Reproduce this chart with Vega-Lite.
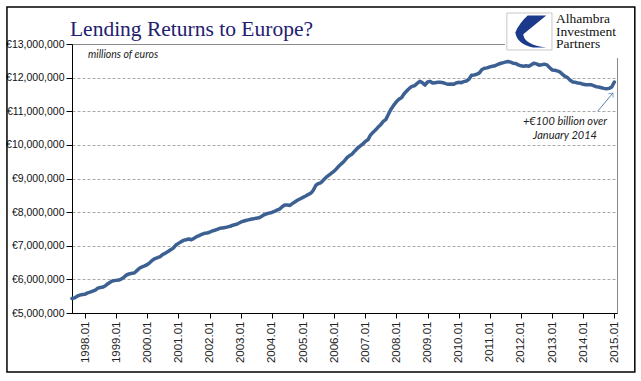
{
  "$schema": "https://vega.github.io/schema/vega-lite/v6.json",
  "width": 545,
  "height": 269,
  "autosize": {"type": "none"},
  "padding": {"left": 72, "top": 44, "right": 24, "bottom": 68},
  "background": "white",
  "config": {"view": {"stroke": "#8a8a8a", "strokeWidth": 1}},
  "resolve": {"axis": {"x": "independent", "y": "independent"}},
  "datasets": {
    "lending": [
      {"date": "1997-08-01", "value": 5430000}, {"date": "1997-09-01", "value": 5450000}, {"date": "1997-10-01", "value": 5500000}, {"date": "1997-11-01", "value": 5530000}, {"date": "1997-12-01", "value": 5550000},
      {"date": "1998-01-01", "value": 5560000}, {"date": "1998-02-01", "value": 5600000}, {"date": "1998-03-01", "value": 5620000}, {"date": "1998-04-01", "value": 5650000}, {"date": "1998-05-01", "value": 5680000}, {"date": "1998-06-01", "value": 5740000}, {"date": "1998-07-01", "value": 5760000}, {"date": "1998-08-01", "value": 5770000}, {"date": "1998-09-01", "value": 5820000}, {"date": "1998-10-01", "value": 5880000}, {"date": "1998-11-01", "value": 5930000}, {"date": "1998-12-01", "value": 5960000},
      {"date": "1999-01-01", "value": 5970000}, {"date": "1999-02-01", "value": 5980000}, {"date": "1999-03-01", "value": 6010000}, {"date": "1999-04-01", "value": 6060000}, {"date": "1999-05-01", "value": 6130000}, {"date": "1999-06-01", "value": 6160000}, {"date": "1999-07-01", "value": 6180000}, {"date": "1999-08-01", "value": 6190000}, {"date": "1999-09-01", "value": 6260000}, {"date": "1999-10-01", "value": 6330000}, {"date": "1999-11-01", "value": 6370000}, {"date": "1999-12-01", "value": 6400000},
      {"date": "2000-01-01", "value": 6440000}, {"date": "2000-02-01", "value": 6500000}, {"date": "2000-03-01", "value": 6570000}, {"date": "2000-04-01", "value": 6620000}, {"date": "2000-05-01", "value": 6650000}, {"date": "2000-06-01", "value": 6680000}, {"date": "2000-07-01", "value": 6740000}, {"date": "2000-08-01", "value": 6780000}, {"date": "2000-09-01", "value": 6830000}, {"date": "2000-10-01", "value": 6880000}, {"date": "2000-11-01", "value": 6930000}, {"date": "2000-12-01", "value": 7020000},
      {"date": "2001-01-01", "value": 7070000}, {"date": "2001-02-01", "value": 7120000}, {"date": "2001-03-01", "value": 7160000}, {"date": "2001-04-01", "value": 7180000}, {"date": "2001-05-01", "value": 7200000}, {"date": "2001-06-01", "value": 7180000}, {"date": "2001-07-01", "value": 7220000}, {"date": "2001-08-01", "value": 7270000}, {"date": "2001-09-01", "value": 7300000}, {"date": "2001-10-01", "value": 7340000}, {"date": "2001-11-01", "value": 7370000}, {"date": "2001-12-01", "value": 7380000},
      {"date": "2002-01-01", "value": 7400000}, {"date": "2002-02-01", "value": 7440000}, {"date": "2002-03-01", "value": 7460000}, {"date": "2002-04-01", "value": 7490000}, {"date": "2002-05-01", "value": 7520000}, {"date": "2002-06-01", "value": 7530000}, {"date": "2002-07-01", "value": 7540000}, {"date": "2002-08-01", "value": 7560000}, {"date": "2002-09-01", "value": 7580000}, {"date": "2002-10-01", "value": 7610000}, {"date": "2002-11-01", "value": 7630000}, {"date": "2002-12-01", "value": 7660000},
      {"date": "2003-01-01", "value": 7700000}, {"date": "2003-02-01", "value": 7730000}, {"date": "2003-03-01", "value": 7750000}, {"date": "2003-04-01", "value": 7770000}, {"date": "2003-05-01", "value": 7790000}, {"date": "2003-06-01", "value": 7800000}, {"date": "2003-07-01", "value": 7820000}, {"date": "2003-08-01", "value": 7830000}, {"date": "2003-09-01", "value": 7870000}, {"date": "2003-10-01", "value": 7920000}, {"date": "2003-11-01", "value": 7950000}, {"date": "2003-12-01", "value": 7970000},
      {"date": "2004-01-01", "value": 7990000}, {"date": "2004-02-01", "value": 8020000}, {"date": "2004-03-01", "value": 8060000}, {"date": "2004-04-01", "value": 8090000}, {"date": "2004-05-01", "value": 8160000}, {"date": "2004-06-01", "value": 8210000}, {"date": "2004-07-01", "value": 8210000}, {"date": "2004-08-01", "value": 8200000}, {"date": "2004-09-01", "value": 8260000}, {"date": "2004-10-01", "value": 8310000}, {"date": "2004-11-01", "value": 8360000}, {"date": "2004-12-01", "value": 8400000},
      {"date": "2005-01-01", "value": 8440000}, {"date": "2005-02-01", "value": 8480000}, {"date": "2005-03-01", "value": 8520000}, {"date": "2005-04-01", "value": 8560000}, {"date": "2005-05-01", "value": 8650000}, {"date": "2005-06-01", "value": 8800000}, {"date": "2005-07-01", "value": 8850000}, {"date": "2005-08-01", "value": 8880000}, {"date": "2005-09-01", "value": 8960000}, {"date": "2005-10-01", "value": 9040000}, {"date": "2005-11-01", "value": 9100000}, {"date": "2005-12-01", "value": 9160000},
      {"date": "2006-01-01", "value": 9220000}, {"date": "2006-02-01", "value": 9300000}, {"date": "2006-03-01", "value": 9380000}, {"date": "2006-04-01", "value": 9450000}, {"date": "2006-05-01", "value": 9520000}, {"date": "2006-06-01", "value": 9620000}, {"date": "2006-07-01", "value": 9680000}, {"date": "2006-08-01", "value": 9730000}, {"date": "2006-09-01", "value": 9820000}, {"date": "2006-10-01", "value": 9900000}, {"date": "2006-11-01", "value": 9960000}, {"date": "2006-12-01", "value": 10020000},
      {"date": "2007-01-01", "value": 10100000}, {"date": "2007-02-01", "value": 10150000}, {"date": "2007-03-01", "value": 10280000}, {"date": "2007-04-01", "value": 10370000}, {"date": "2007-05-01", "value": 10440000}, {"date": "2007-06-01", "value": 10530000}, {"date": "2007-07-01", "value": 10600000}, {"date": "2007-08-01", "value": 10700000}, {"date": "2007-09-01", "value": 10760000}, {"date": "2007-10-01", "value": 10920000}, {"date": "2007-11-01", "value": 11070000}, {"date": "2007-12-01", "value": 11180000},
      {"date": "2008-01-01", "value": 11280000}, {"date": "2008-02-01", "value": 11360000}, {"date": "2008-03-01", "value": 11400000}, {"date": "2008-04-01", "value": 11520000}, {"date": "2008-05-01", "value": 11600000}, {"date": "2008-06-01", "value": 11680000}, {"date": "2008-07-01", "value": 11740000}, {"date": "2008-08-01", "value": 11760000}, {"date": "2008-09-01", "value": 11830000}, {"date": "2008-10-01", "value": 11890000}, {"date": "2008-11-01", "value": 11850000}, {"date": "2008-12-01", "value": 11780000},
      {"date": "2009-01-01", "value": 11870000}, {"date": "2009-02-01", "value": 11890000}, {"date": "2009-03-01", "value": 11840000}, {"date": "2009-04-01", "value": 11850000}, {"date": "2009-05-01", "value": 11860000}, {"date": "2009-06-01", "value": 11860000}, {"date": "2009-07-01", "value": 11850000}, {"date": "2009-08-01", "value": 11820000}, {"date": "2009-09-01", "value": 11800000}, {"date": "2009-10-01", "value": 11810000}, {"date": "2009-11-01", "value": 11800000}, {"date": "2009-12-01", "value": 11840000},
      {"date": "2010-01-01", "value": 11860000}, {"date": "2010-02-01", "value": 11850000}, {"date": "2010-03-01", "value": 11880000}, {"date": "2010-04-01", "value": 11900000}, {"date": "2010-05-01", "value": 11950000}, {"date": "2010-06-01", "value": 12070000}, {"date": "2010-07-01", "value": 12080000}, {"date": "2010-08-01", "value": 12100000}, {"date": "2010-09-01", "value": 12140000}, {"date": "2010-10-01", "value": 12240000}, {"date": "2010-11-01", "value": 12280000}, {"date": "2010-12-01", "value": 12290000},
      {"date": "2011-01-01", "value": 12320000}, {"date": "2011-02-01", "value": 12340000}, {"date": "2011-03-01", "value": 12350000}, {"date": "2011-04-01", "value": 12390000}, {"date": "2011-05-01", "value": 12420000}, {"date": "2011-06-01", "value": 12440000}, {"date": "2011-07-01", "value": 12460000}, {"date": "2011-08-01", "value": 12480000}, {"date": "2011-09-01", "value": 12460000}, {"date": "2011-10-01", "value": 12430000}, {"date": "2011-11-01", "value": 12420000}, {"date": "2011-12-01", "value": 12380000},
      {"date": "2012-01-01", "value": 12350000}, {"date": "2012-02-01", "value": 12340000}, {"date": "2012-03-01", "value": 12350000}, {"date": "2012-04-01", "value": 12340000}, {"date": "2012-05-01", "value": 12380000}, {"date": "2012-06-01", "value": 12430000}, {"date": "2012-07-01", "value": 12410000}, {"date": "2012-08-01", "value": 12370000}, {"date": "2012-09-01", "value": 12380000}, {"date": "2012-10-01", "value": 12400000}, {"date": "2012-11-01", "value": 12380000}, {"date": "2012-12-01", "value": 12300000},
      {"date": "2013-01-01", "value": 12230000}, {"date": "2013-02-01", "value": 12220000}, {"date": "2013-03-01", "value": 12200000}, {"date": "2013-04-01", "value": 12170000}, {"date": "2013-05-01", "value": 12100000}, {"date": "2013-06-01", "value": 12040000}, {"date": "2013-07-01", "value": 12000000}, {"date": "2013-08-01", "value": 11920000}, {"date": "2013-09-01", "value": 11870000}, {"date": "2013-10-01", "value": 11860000}, {"date": "2013-11-01", "value": 11840000}, {"date": "2013-12-01", "value": 11830000},
      {"date": "2014-01-01", "value": 11800000}, {"date": "2014-02-01", "value": 11790000}, {"date": "2014-03-01", "value": 11790000}, {"date": "2014-04-01", "value": 11790000}, {"date": "2014-05-01", "value": 11760000}, {"date": "2014-06-01", "value": 11730000}, {"date": "2014-07-01", "value": 11720000}, {"date": "2014-08-01", "value": 11700000}, {"date": "2014-09-01", "value": 11680000}, {"date": "2014-10-01", "value": 11670000}, {"date": "2014-11-01", "value": 11680000}, {"date": "2014-12-01", "value": 11720000},
      {"date": "2015-01-01", "value": 11870000}
    ]
  },
  "layer": [
    {
      "data": {"name": "lending"},
      "mark": {"type": "line", "color": "#3C6091", "strokeWidth": 3.5, "strokeJoin": "round", "strokeCap": "round"},
      "encoding": {
        "x": {
          "field": "date", "type": "temporal",
          "scale": {"type": "utc", "nice": false, "domain": [{"year": 1997, "month": 8, "date": 1, "utc": true}, {"year": 2015, "month": 2, "date": 1, "utc": true}]},
          "axis": {
            "title": null, "grid": false, "labelExpr": "utcFormat(datum.value, '%Y.%m')", "labelAngle": 270,
            "values": [
              {"year": 1998, "month": 1, "date": 1, "utc": true}, {"year": 1999, "month": 1, "date": 1, "utc": true}, {"year": 2000, "month": 1, "date": 1, "utc": true}, {"year": 2001, "month": 1, "date": 1, "utc": true}, {"year": 2002, "month": 1, "date": 1, "utc": true}, {"year": 2003, "month": 1, "date": 1, "utc": true}, {"year": 2004, "month": 1, "date": 1, "utc": true}, {"year": 2005, "month": 1, "date": 1, "utc": true}, {"year": 2006, "month": 1, "date": 1, "utc": true}, {"year": 2007, "month": 1, "date": 1, "utc": true}, {"year": 2008, "month": 1, "date": 1, "utc": true}, {"year": 2009, "month": 1, "date": 1, "utc": true}, {"year": 2010, "month": 1, "date": 1, "utc": true}, {"year": 2011, "month": 1, "date": 1, "utc": true}, {"year": 2012, "month": 1, "date": 1, "utc": true}, {"year": 2013, "month": 1, "date": 1, "utc": true}, {"year": 2014, "month": 1, "date": 1, "utc": true}, {"year": 2015, "month": 1, "date": 1, "utc": true}
            ],
            "tickSize": 5, "tickColor": "#000000", "domainColor": "#000000", "domainWidth": 1,
            "labelFont": "Liberation Sans", "labelFontSize": 11.5, "labelColor": "#222222", "labelPadding": 3,
            "labelOverlap": false, "labelFlush": false
          }
        },
        "y": {
          "field": "value", "type": "quantitative",
          "scale": {"domain": [5000000, 13000000], "zero": false, "nice": false},
          "axis": {
            "title": null,
            "values": [5000000, 6000000, 7000000, 8000000, 9000000, 10000000, 11000000, 12000000, 13000000],
            "labelExpr": "'€' + format(datum.value, ',')",
            "tickSize": 6, "tickColor": "#000000", "domainColor": "#000000", "domainWidth": 1,
            "labelFont": "Liberation Sans", "labelFontSize": 10.5, "labelColor": "#111111", "labelPadding": 2,
            "grid": true, "gridColor": "#a8a8a8", "gridDash": [3, 2], "gridWidth": 1,
            "gridOpacity": {"condition": {"test": "datum.value == 13000000 || datum.value == 5000000", "value": 0}, "value": 1},
            "labelOverlap": false, "labelFlush": false
          }
        }
      }
    },
    {
      "data": {"values": [{"xa": "1995-06-30", "xb": "2015-08-29", "ya": 3245000, "yb": 14100000}]},
      "mark": {"type": "rect", "fillOpacity": 0, "stroke": "#000000", "strokeWidth": 1.5},
      "encoding": {
        "x": {"field": "xa", "type": "temporal", "axis": null, "scale": {"type": "utc", "nice": false, "domain": [{"year": 1997, "month": 8, "date": 1, "utc": true}, {"year": 2015, "month": 2, "date": 1, "utc": true}]}},
        "x2": {"field": "xb"},
        "y": {"field": "ya", "type": "quantitative", "axis": null, "scale": {"domain": [5000000, 13000000], "zero": false, "nice": false}},
        "y2": {"field": "yb"}
      }
    },
    {
      "data": {"values": [{"x": "1997-07-08", "y": 13238000, "t": "Lending Returns to Europe?"}]},
      "mark": {"type": "text", "align": "left", "baseline": "alphabetic", "font": "Liberation Serif", "fontSize": 21.5, "color": "#1E2070"},
      "encoding": {
        "x": {"field": "x", "type": "temporal", "axis": null, "scale": {"type": "utc", "nice": false, "domain": [{"year": 1997, "month": 8, "date": 1, "utc": true}, {"year": 2015, "month": 2, "date": 1, "utc": true}]}},
        "y": {"field": "y", "type": "quantitative", "axis": null, "scale": {"domain": [5000000, 13000000], "zero": false, "nice": false}},
        "text": {"field": "t"}
      }
    },
    {
      "data": {"values": [{"xa": "2011-06-27", "xb": "2015-07-02", "ya": 12584000, "yb": 14011000}]},
      "mark": {"type": "rect", "fill": "white", "stroke": null},
      "encoding": {
        "x": {"field": "xa", "type": "temporal", "axis": null, "scale": {"type": "utc", "nice": false, "domain": [{"year": 1997, "month": 8, "date": 1, "utc": true}, {"year": 2015, "month": 2, "date": 1, "utc": true}]}},
        "x2": {"field": "xb"},
        "y": {"field": "ya", "type": "quantitative", "axis": null, "scale": {"domain": [5000000, 13000000], "zero": false, "nice": false}},
        "y2": {"field": "yb"}
      }
    },
    {
      "data": {"values": [{"xa": "2011-07-20", "xb": "2012-12-30", "ya": 12822000, "yb": 13922000}]},
      "mark": {"type": "rect", "fill": "white", "stroke": "#c8c8c8", "strokeWidth": 1},
      "encoding": {
        "x": {"field": "xa", "type": "temporal", "axis": null, "scale": {"type": "utc", "nice": false, "domain": [{"year": 1997, "month": 8, "date": 1, "utc": true}, {"year": 2015, "month": 2, "date": 1, "utc": true}]}},
        "x2": {"field": "xb"},
        "y": {"field": "ya", "type": "quantitative", "axis": null, "scale": {"domain": [5000000, 13000000], "zero": false, "nice": false}},
        "y2": {"field": "yb"}
      }
    },
    {
      "data": {"values": [{"x": "2012-04-10", "y": 13372000}]},
      "mark": {"type": "point", "filled": true, "fill": "#1B3A8C", "fillOpacity": 1, "strokeWidth": 0, "size": 1250,
        "shape": "M -0.1 -0.9 L 0.95 -0.9 L -0.35 0.15 Q -0.3 0.75 0.95 0.9 L 0.2 0.9 Q -0.7 0.7 -0.8 0.05 Q -0.55 -0.5 -0.1 -0.9 Z"},
      "encoding": {
        "x": {"field": "x", "type": "temporal", "axis": null, "scale": {"type": "utc", "nice": false, "domain": [{"year": 1997, "month": 8, "date": 1, "utc": true}, {"year": 2015, "month": 2, "date": 1, "utc": true}]}},
        "y": {"field": "y", "type": "quantitative", "axis": null, "scale": {"domain": [5000000, 13000000], "zero": false, "nice": false}}
      }
    },
    {
      "data": {"values": [
        {"x": "2013-02-15", "y": 13625000, "t": "Alhambra"},
        {"x": "2013-02-15", "y": 13238000, "t": "Investment"},
        {"x": "2013-02-15", "y": 12881000, "t": "Partners"}
      ]},
      "mark": {"type": "text", "align": "left", "baseline": "alphabetic", "font": "Liberation Serif", "fontSize": 13.5, "color": "#111111"},
      "encoding": {
        "x": {"field": "x", "type": "temporal", "axis": null, "scale": {"type": "utc", "nice": false, "domain": [{"year": 1997, "month": 8, "date": 1, "utc": true}, {"year": 2015, "month": 2, "date": 1, "utc": true}]}},
        "y": {"field": "y", "type": "quantitative", "axis": null, "scale": {"domain": [5000000, 13000000], "zero": false, "nice": false}},
        "text": {"field": "t"}
      }
    },
    {
      "data": {"values": [{"x": "1998-02-05", "y": 12673000, "t": "millions of euros"}]},
      "mark": {"type": "text", "align": "left", "baseline": "middle", "font": "Lato", "fontSize": 10.5, "fontStyle": "italic", "color": "#222222"},
      "encoding": {
        "x": {"field": "x", "type": "temporal", "axis": null, "scale": {"type": "utc", "nice": false, "domain": [{"year": 1997, "month": 8, "date": 1, "utc": true}, {"year": 2015, "month": 2, "date": 1, "utc": true}]}},
        "y": {"field": "y", "type": "quantitative", "axis": null, "scale": {"domain": [5000000, 13000000], "zero": false, "nice": false}},
        "text": {"field": "t"}
      }
    },
    {
      "data": {"values": [
        {"x": "2013-06-01", "y": 10680000, "t": "+€100 billion over"},
        {"x": "2013-06-01", "y": 10264000, "t": "January 2014"}
      ]},
      "mark": {"type": "text", "align": "center", "baseline": "middle", "font": "Lato", "fontSize": 11, "fontStyle": "italic", "color": "#222222"},
      "encoding": {
        "x": {"field": "x", "type": "temporal", "axis": null, "scale": {"type": "utc", "nice": false, "domain": [{"year": 1997, "month": 8, "date": 1, "utc": true}, {"year": 2015, "month": 2, "date": 1, "utc": true}]}},
        "y": {"field": "y", "type": "quantitative", "axis": null, "scale": {"domain": [5000000, 13000000], "zero": false, "nice": false}},
        "text": {"field": "t"}
      }
    },
    {
      "data": {"values": [{"xa": "2014-06-22", "ya": 11007000, "xb": "2014-12-15", "yb": 11543000}]},
      "mark": {"type": "rule", "color": "#5B80B0", "strokeWidth": 1},
      "encoding": {
        "x": {"field": "xa", "type": "temporal", "axis": null, "scale": {"type": "utc", "nice": false, "domain": [{"year": 1997, "month": 8, "date": 1, "utc": true}, {"year": 2015, "month": 2, "date": 1, "utc": true}]}},
        "x2": {"field": "xb"},
        "y": {"field": "ya", "type": "quantitative", "axis": null, "scale": {"domain": [5000000, 13000000], "zero": false, "nice": false}},
        "y2": {"field": "yb"}
      }
    },
    {
      "data": {"values": [{"x": "2014-12-15", "y": 11543000}]},
      "mark": {"type": "point", "filled": false, "stroke": "#5B80B0", "strokeWidth": 1, "size": 60, "angle": 40, "shape": "M -0.8 0.9 L 0 0 L 0.8 0.9"},
      "encoding": {
        "x": {"field": "x", "type": "temporal", "axis": null, "scale": {"type": "utc", "nice": false, "domain": [{"year": 1997, "month": 8, "date": 1, "utc": true}, {"year": 2015, "month": 2, "date": 1, "utc": true}]}},
        "y": {"field": "y", "type": "quantitative", "axis": null, "scale": {"domain": [5000000, 13000000], "zero": false, "nice": false}}
      }
    }
  ]
}
